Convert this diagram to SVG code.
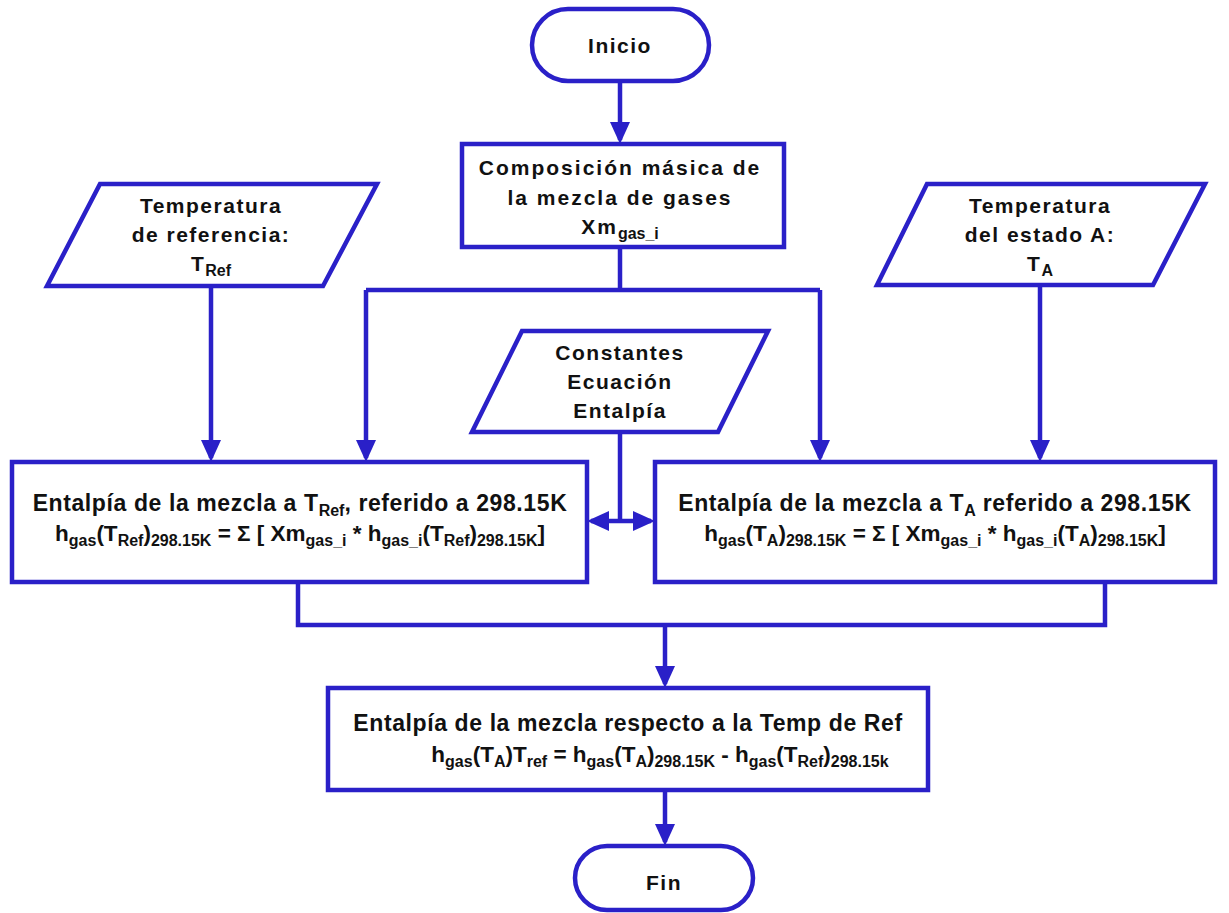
<svg xmlns="http://www.w3.org/2000/svg" width="1229" height="913" viewBox="0 0 1229 913">
  <style>
    .shape { fill: #ffffff; stroke: #2a20c8; stroke-width: 4.5; stroke-linejoin: miter; }
    .wire { fill: none; stroke: #2a20c8; stroke-width: 4.5; }
    .lbl { font-family: "Liberation Sans", Arial, sans-serif; font-weight: bold; font-size: 21px; fill: #111111; text-anchor: middle; letter-spacing: 1.5px; }
    .wide { letter-spacing: 2px; }
    .big { font-size: 23px; letter-spacing: 0.6px; }
    .eq { font-size: 22.5px; letter-spacing: 0px; }
    .sub { font-size: 16px; letter-spacing: 0px; }
  </style>
  <defs>
    <marker id="arrow" viewBox="0 0 22 20" refX="18" refY="10" markerWidth="22" markerHeight="20" markerUnits="userSpaceOnUse" orient="auto-start-reverse">
      <path d="M0,0 L22,10 L0,20 z" fill="#2a20c8"/>
    </marker>
  </defs>
  <rect width="1229" height="913" fill="#ffffff"/>

  <!-- connectors -->
  <g id="connectors">
    <line class="wire" x1="620" y1="81" x2="620" y2="140" marker-end="url(#arrow)"/>
    <polyline class="wire" points="620,247 620,290"/>
    <polyline class="wire" points="366,290 820,290"/>
    <line class="wire" x1="366" y1="290" x2="366" y2="458" marker-end="url(#arrow)"/>
    <line class="wire" x1="820" y1="290" x2="820" y2="458" marker-end="url(#arrow)"/>
    <line class="wire" x1="211" y1="286" x2="211" y2="458" marker-end="url(#arrow)"/>
    <line class="wire" x1="1040" y1="285" x2="1040" y2="458" marker-end="url(#arrow)"/>
    <polyline class="wire" points="620,432 620,521"/>
    <line class="wire" x1="591" y1="521" x2="651" y2="521" marker-start="url(#arrow)" marker-end="url(#arrow)"/>
    <polyline class="wire" points="298,582 298,625 1105,625 1105,582"/>
    <line class="wire" x1="665" y1="625" x2="665" y2="684" marker-end="url(#arrow)"/>
    <line class="wire" x1="665" y1="790" x2="665" y2="842" marker-end="url(#arrow)"/>
  </g>

  <!-- start terminal -->
  <g id="inicio">
    <rect class="shape" x="532" y="9" width="177" height="72" rx="36" ry="36"/>
    <text class="lbl" x="620" y="53">Inicio</text>
  </g>

  <!-- mass composition -->
  <g id="composicion">
    <rect class="shape" x="462" y="144" width="322" height="103"/>
    <text class="lbl wide" x="620" y="175">Composición másica de</text>
    <text class="lbl wide" x="620" y="205">la mezcla de gases</text>
    <text class="lbl wide" x="620" y="234">Xm<tspan class="sub" dy="5">gas_i</tspan></text>
  </g>

  <!-- reference temperature input -->
  <g id="temp-ref">
    <polygon class="shape" points="100,184 377,184 323,286 47,286"/>
    <text class="lbl" x="211" y="213">Temperatura</text>
    <text class="lbl" x="211" y="242">de referencia:</text>
    <text class="lbl" x="211" y="271">T<tspan class="sub" dy="5">Ref</tspan></text>
  </g>

  <!-- state A temperature input -->
  <g id="temp-a">
    <polygon class="shape" points="927,184 1205,184 1153,285 877,285"/>
    <text class="lbl" x="1040" y="213">Temperatura</text>
    <text class="lbl" x="1040" y="242">del estado A:</text>
    <text class="lbl" x="1040" y="271">T<tspan class="sub" dy="5">A</tspan></text>
  </g>

  <!-- enthalpy equation constants input -->
  <g id="constantes">
    <polygon class="shape" points="522,331 768,331 718,432 472,432"/>
    <text class="lbl" x="620" y="360">Constantes</text>
    <text class="lbl" x="620" y="389">Ecuación</text>
    <text class="lbl" x="620" y="418">Entalpía</text>
  </g>

  <!-- mixture enthalpy at T_Ref -->
  <g id="entalpia-ref">
    <rect class="shape" x="12" y="462" width="575" height="120"/>
    <text class="lbl big" x="300" y="511">Entalpía de la mezcla a T<tspan class="sub" dy="5">Ref</tspan><tspan dy="-5">, referido a 298.15K</tspan></text>
    <text class="lbl eq" x="300" y="541">h<tspan class="sub" dy="5">gas</tspan><tspan dy="-5">(T</tspan><tspan class="sub" dy="5">Ref</tspan><tspan dy="-5">)</tspan><tspan class="sub" dy="5">298.15K</tspan><tspan dy="-5"> = Σ [ Xm</tspan><tspan class="sub" dy="5">gas_i</tspan><tspan dy="-5"> * h</tspan><tspan class="sub" dy="5">gas_i</tspan><tspan dy="-5">(T</tspan><tspan class="sub" dy="5">Ref</tspan><tspan dy="-5">)</tspan><tspan class="sub" dy="5">298.15K</tspan><tspan dy="-5">]</tspan></text>
  </g>

  <!-- mixture enthalpy at T_A -->
  <g id="entalpia-a">
    <rect class="shape" x="655" y="462" width="560" height="120"/>
    <text class="lbl big" x="935" y="511">Entalpía de la mezcla a T<tspan class="sub" dy="5">A</tspan><tspan dy="-5"> referido a 298.15K</tspan></text>
    <text class="lbl eq" x="935" y="541">h<tspan class="sub" dy="5">gas</tspan><tspan dy="-5">(T</tspan><tspan class="sub" dy="5">A</tspan><tspan dy="-5">)</tspan><tspan class="sub" dy="5">298.15K</tspan><tspan dy="-5"> = Σ [ Xm</tspan><tspan class="sub" dy="5">gas_i</tspan><tspan dy="-5"> * h</tspan><tspan class="sub" dy="5">gas_i</tspan><tspan dy="-5">(T</tspan><tspan class="sub" dy="5">A</tspan><tspan dy="-5">)</tspan><tspan class="sub" dy="5">298.15K</tspan><tspan dy="-5">]</tspan></text>
  </g>

  <!-- enthalpy relative to reference temperature -->
  <g id="entalpia-resultado">
    <rect class="shape" x="328" y="688" width="600" height="102"/>
    <text class="lbl big" x="628" y="731">Entalpía de la mezcla respecto a la Temp de Ref</text>
    <text class="lbl eq" x="660" y="762">h<tspan class="sub" dy="5">gas</tspan><tspan dy="-5">(T</tspan><tspan class="sub" dy="5">A</tspan><tspan dy="-5">)T</tspan><tspan class="sub" dy="5">ref</tspan><tspan dy="-5"> = h</tspan><tspan class="sub" dy="5">gas</tspan><tspan dy="-5">(T</tspan><tspan class="sub" dy="5">A</tspan><tspan dy="-5">)</tspan><tspan class="sub" dy="5">298.15K</tspan><tspan dy="-5"> - h</tspan><tspan class="sub" dy="5">gas</tspan><tspan dy="-5">(T</tspan><tspan class="sub" dy="5">Ref</tspan><tspan dy="-5">)</tspan><tspan class="sub" dy="5">298.15k</tspan></text>
  </g>

  <!-- end terminal -->
  <g id="fin">
    <rect class="shape" x="575" y="846" width="178" height="64" rx="32" ry="32"/>
    <text class="lbl" x="664" y="890">Fin</text>
  </g>
</svg>
